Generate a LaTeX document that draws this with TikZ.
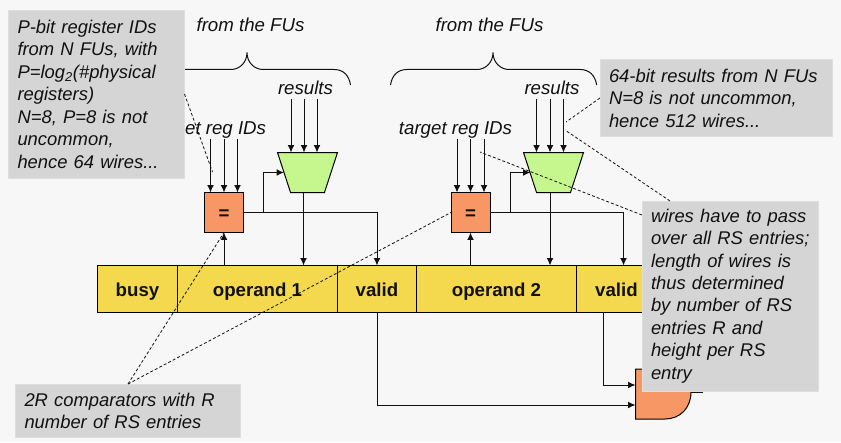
\documentclass[tikz,border=0pt]{standalone}
\usepackage{fontspec}
\setmainfont{Liberation Sans}
\usetikzlibrary{shapes.geometric,arrows.meta}
\definecolor{bgc}{HTML}{F7F7F7}
\definecolor{boxc}{HTML}{D5D5D5}
\definecolor{boxe}{HTML}{DEDEDE}
\definecolor{barc}{HTML}{F4D94F}
\definecolor{orc}{HTML}{F79766}
\definecolor{grc}{HTML}{C6F78F}
\definecolor{ink}{HTML}{111111}
\tikzset{
  x=0.75pt,y=-0.75pt,
  every node/.style={inner sep=0pt,outer sep=0pt,text=ink},
  wire/.style={draw=ink,line width=0.75pt},
  arr/.style={wire,-{Latex[length=5.5pt,width=5pt]}},
  note/.style={draw=ink,line width=0.6pt,dash pattern=on 2.2pt off 1.6pt},
  cell/.style={draw=black,line width=0.75pt,fill=barc,minimum height=46.5*0.75pt,text height=11pt,text depth=0.1pt,font=\fontsize{14}{16}\selectfont\bfseries,anchor=north west},
  cmp/.style={draw=black,line width=0.75pt,fill=orc,minimum width=39*0.75pt,minimum height=40*0.75pt,text height=10.5pt,text depth=0.1pt,font=\fontsize{14}{16}\selectfont\bfseries,anchor=north west},
  mux/.style={draw=black,line width=0.75pt,fill=grc,trapezium,shape border rotate=180,trapezium stretches=true,trapezium left angle=69,trapezium right angle=69,inner sep=1pt,minimum width=60*0.75pt,minimum height=40*0.75pt,anchor=north},
  lbl/.style={font=\fontsize{14}{16.9}\selectfont\itshape,anchor=base},
  callout/.style={draw=boxe,line width=0.75pt,fill=boxc,anchor=north west,align=left,inner xsep=9*0.75pt,font=\fontsize{13.8}{16.85}\selectfont\itshape},
  brace/.style={draw=ink,line width=0.75pt}
}
\begin{document}
\begin{tikzpicture}
\useasboundingbox[fill=bgc] (0,0) rectangle (841,442);
% labels
\node[lbl] (f1) at (250.5,32) {from the FUs};
\node[lbl] (f2) at (489.5,32) {from the FUs};
\node[lbl] (r1) at (305.5,95) {results};
\node[lbl] (r2) at (552,95) {results};
\node[lbl] (t1) at (209.5,135) {target reg IDs};
\node[lbl] (t2) at (455.5,135) {target reg IDs};
% braces
\draw[brace] (143,85) .. controls (145,75) and (152,69.5) .. (160,69.5) -- (231,69.5) .. controls (240,69.5) and (247,62) .. (247,52.5) .. controls (247,62) and (254,69.5) .. (263,69.5) -- (334,69.5) .. controls (343,69.5) and (349,75) .. (350.5,85);
\draw[brace] (390.5,85) .. controls (392,75) and (398,69.5) .. (407,69.5) -- (477,69.5) .. controls (486,69.5) and (493,62) .. (493,52.5) .. controls (493,62) and (500,69.5) .. (509,69.5) -- (580,69.5) .. controls (589,69.5) and (595,75) .. (596.7,85);
% register bar
\node[cell,minimum width=80*0.75pt] (busy) at (97.5,265.5) {busy};
\node[cell,minimum width=160*0.75pt] (op1) at (177.5,265.5) {operand 1};
\node[cell,minimum width=79*0.75pt] (v1) at (337.5,265.5) {valid};
\node[cell,minimum width=160*0.75pt] (op2) at (416.5,265.5) {operand 2};
\node[cell,minimum width=80*0.75pt] (v2) at (576.5,265.5) {valid};
% comparators and muxes
\node[cmp] (c1) at (204.5,192.5) {=};
\node[cmp] (c2) at (451,192.5) {=};
\node[mux] (m1) at (307.5,152.5) {};
\node[mux] (m2) at (553.5,152.5) {};
% free ends
\foreach \n/\x in {a/210.5,b/224,c/237.5,d/457,e/470.5,f/484}{
  \coordinate (s\n) at (\x,139);
  \coordinate (e\n) at (\x,192.5);
  \draw[arr] (s\n) -- (e\n);
}
\foreach \n/\x in {g/291,h/304,i/317,j/536.5,k/550,l/563.5}{
  \coordinate (s\n) at (\x,99);
  \coordinate (e\n) at (\x,152.5);
  \draw[arr] (s\n) -- (e\n);
}
% comparator outputs
\coordinate (b1) at (263.5,212.5);
\coordinate (b2) at (510.5,212.5);
\coordinate (v1in) at (377,265.5);
\coordinate (v2in) at (623.5,265.5);
\coordinate (o1in) at (224,265.5);
\coordinate (o2in) at (470.5,265.5);
\coordinate (d1in) at (303.5,265.5);
\coordinate (d2in) at (550,265.5);
\coordinate (m1out) at (303.5,192.5);
\coordinate (m2out) at (550,192.5);
\coordinate (c1bot) at (224,232.5);
\coordinate (c2bot) at (470.5,232.5);
\coordinate (m1in) at (284,172.5);
\coordinate (m2in) at (530.5,172.5);
\draw[wire,-{Latex[length=5.5pt,width=5pt]}] (c1.east) -- (v1in |- c1.east) -- (v1in);
\draw[wire,-{Latex[length=5.5pt,width=5pt]}] (c2.east) -- (v2in |- c2.east) -- (v2in);
\draw[arr] (b1) |- (m1in);
\draw[arr] (b2) |- (m2in);
\draw[arr] (m1out) -- (d1in);
\draw[arr] (m2out) -- (d2in);
\draw[arr] (o1in) -- (c1bot);
\draw[arr] (o2in) -- (c2bot);
% gate
\coordinate (gi1) at (635.5,385);
\coordinate (gi2) at (635.5,405);
\coordinate (go) at (703,392.5);
\coordinate (gr) at (691,392.5);
\draw[wire] (gr) -- (go);
\draw[draw=black,line width=0.75pt,fill=orc] (635.5,369) -- (691,369) -- (691,392) .. controls (691,408) and (680,419) .. (665,419) -- (635.5,419) -- cycle;
\coordinate (v1out) at (377.5,312);
\coordinate (v2out) at (603.5,312);
\draw[arr] (v1out) |- (gi2);
\draw[arr] (v2out) |- (gi1);
% callouts
\node[callout,text width=158*0.75pt,minimum height=167.5*0.75pt] (n1) at (8.5,10.5) {P-bit register IDs\\from N FUs, with\\P=log\textsubscript{2}(\#physical\\registers)\\N=8, P=8 is not\\uncommon,\\hence 64 wires...};
\node[callout,text width=214.5*0.75pt,minimum height=76.5*0.75pt] (n2) at (600,60) {\mbox{64-bit results from N FUs}\\N=8 is not uncommon,\\hence 512 wires...};
\node[callout,text width=158*0.75pt,minimum height=190*0.75pt] (n3) at (642,201) {wires have to pass\\\mbox{over all RS entries;}\\length of wires is\\thus determined\\by number of RS\\entries R and\\height per RS\\entry};
\node[callout,text width=207*0.75pt,minimum height=53.5*0.75pt] (n4) at (15.5,384) {2R comparators with R\\number of RS entries};
% dashed leaders
\coordinate (l1a) at (184.5,94);
\coordinate (l1b) at (212.5,172);
\coordinate (l2a) at (600,98);
\coordinate (l2b) at (566,122);
\coordinate (l3a) at (670,201);
\coordinate (l3b) at (565,130);
\coordinate (l4a) at (642,215);
\coordinate (l4b) at (480,152);
\coordinate (l5) at (128,384);
\draw[note] (l1a) -- (l1b);
\draw[note] (l2a) -- (l2b);
\draw[note] (l3a) -- (l3b);
\draw[note] (l4a) -- (l4b);
\draw[note] (l5) -- (c1bot);
\draw[note] (l5) -- (c2.west);
\end{tikzpicture}
\end{document}
